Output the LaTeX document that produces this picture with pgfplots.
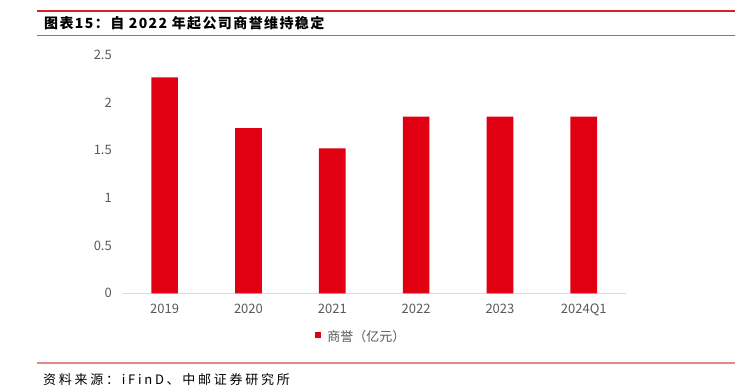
\documentclass[border=0pt]{standalone}
\usepackage{pgfplots}
\pgfplotsset{compat=1.18}
\usepackage{fontspec}
\setmainfont{Noto Sans CJK SC}
\definecolor{barred}{HTML}{E00012}
\definecolor{titlered}{HTML}{D7222A}
\definecolor{srcred}{HTML}{E08A8A}
\definecolor{tickgray}{HTML}{595959}
\definecolor{axgray}{HTML}{D9D9D9}
\begin{document}
\begin{tikzpicture}[x=1pt,y=1pt]
\useasboundingbox (0,0) rectangle (748,387);
\draw[titlered, line width=2.2pt] (37,376.3) -- (735,376.3);
\draw[titlered!80, line width=0.9pt] (37,352) -- (735,352);
\node[anchor=base west, inner sep=0pt, font=\fontsize{14}{16}\selectfont\bfseries\addfontfeature{LetterSpace=10}] at (44,358) {图表15：自 2022 年起公司商誉维持稳定};
\draw[srcred, line width=1.2pt] (37,24) -- (735,24);
\node[anchor=base west, inner sep=0pt, font=\fontsize{13}{15}\selectfont\addfontfeature{LetterSpace=21}] at (43,2) {资料来源：iFinD、中邮证券研究所};
\begin{axis}[
  at={(122.7pt,93.7pt)}, anchor=south west,
  scale only axis, width=503pt, height=238.3pt,
  xmin=-0.5, xmax=5.5, ymin=0, ymax=2.5,
  ytick={0,0.5,1,1.5,2,2.5},
  xtick={0,1,2,3,4,5},
  xticklabels={2019,2020,2021,2022,2023,2024Q1},
  axis x line*=bottom, axis y line*=left,
  x axis line style={axgray, line width=1pt, -},
  y axis line style={draw=none},
  major tick length=0pt,
  /pgf/number format/assume math mode=true,
  ticklabel style={font=\fontsize{13}{15}\selectfont, text=tickgray, inner sep=0pt},
  yticklabel style={anchor=base east, xshift=-10.7pt, yshift=-4.65pt},
  xticklabel style={anchor=base, yshift=-20.5pt},
  ybar, bar width=26.7pt, bar shift=0pt,
  legend style={at={(0.4745,-0.1834)}, anchor=center, draw=none, fill=none,
    font=\fontsize{13}{15}\selectfont, text=tickgray, inner sep=0pt,
    legend columns=1, /tikz/every odd column/.style={column sep=4pt}},
  legend image code/.code={\fill[barred] (0pt,-1pt) rectangle (6pt,5pt);},
]
\addplot[fill=barred, draw=none] coordinates {(0,2.266) (1,1.734) (2,1.52) (3,1.853) (4,1.853) (5,1.853)};
\addlegendentry{商誉（亿元）}
\end{axis}
\end{tikzpicture}
\end{document}
